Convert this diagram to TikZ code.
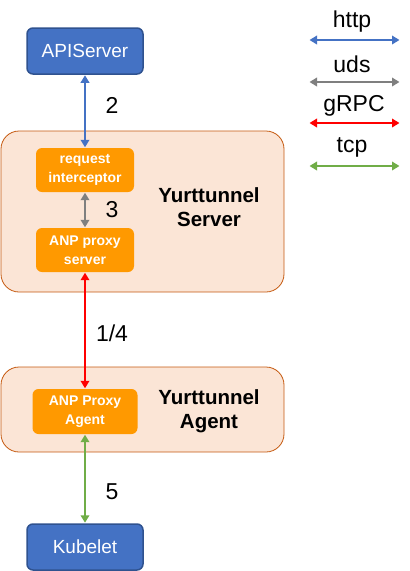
\documentclass[tikz,border=0pt]{standalone}
\usepackage{fontspec}
\setmainfont{Liberation Sans}
\usetikzlibrary{positioning,fit,arrows.meta,backgrounds}
\definecolor{apiblue}{HTML}{4472C4}
\definecolor{apiborder}{HTML}{2F528F}
\definecolor{anporange}{HTML}{FF9900}
\definecolor{tunfill}{HTML}{FBE5D6}
\definecolor{tunborder}{HTML}{C55A11}
\definecolor{udsgray}{HTML}{7F7F7F}
\definecolor{tcpgreen}{HTML}{70AD47}

\begin{document}
\begin{tikzpicture}[
  x = 1pt,
  y = -1pt,
  comp/.style = {
    draw = apiborder,
    line width = 1.5pt,
    rectangle,
    rounded corners = 6pt,
    fill = apiblue,
    text = white,
    font = \fontsize{19}{21}\selectfont,
    minimum width = 116pt,
    minimum height = 46pt,
  },
  proc/.style = {
    rectangle,
    rounded corners = 6pt,
    fill = anporange,
    text = white,
    align = center,
    inner sep = 1pt,
    font = \bfseries\fontsize{14}{19}\selectfont,
    minimum width = 98pt,
    minimum height = 44pt,
  },
  tunnel/.style = {
    draw = tunborder,
    line width = 0.8pt,
    rectangle,
    rounded corners = 18pt,
    fill = tunfill,
    minimum width = 283pt,
  },
  title/.style = {
    align = center,
    font = \bfseries\fontsize{20.5}{24}\selectfont,
  },
  stepnum/.style = {
    font = \fontsize{23}{26}\selectfont,
  },
  link/.style = {
    <->,
    line width = 2pt,
    shorten <= 0.5pt,
    shorten >= 0.5pt,
  },
  http/.style = {link, draw = apiblue},
  uds/.style = {link, draw = udsgray},
  grpc/.style = {link, draw = red, line width = 2.4pt},
  tcp/.style = {link, draw = tcpgreen},
  >={Triangle[length=7.5pt,width=8.5pt]},
]

  \useasboundingbox (0,0) rectangle (410,571);

  % containers
  \node[tunnel,minimum height=161pt] (srv) at (142.5,211.5) {};
  \node[tunnel,minimum height=85pt] (agt) at (142.5,409.5) {};

  \node[title] (srvname) at (209,207) {Yurttunnel\\Server};
  \node[title] (agtname) at (209,411) {Yurttunnel\\Agent};

  % components
  \node[comp] (api) at (85,51) {APIServer};
  \node[proc] (req) at (85,170) {request\\interceptor};
  \node[proc] (anps) at (85,250) {ANP proxy\\server};
  \node[proc,minimum width=105pt,minimum height=45pt] (anpa) at (85,411.5) {ANP Proxy\\Agent};
  \node[comp] (kube) at (85,547) {Kubelet};

  % steps
  \node[stepnum] (s2) at (112,105) {2};
  \node[stepnum] (s3) at (112,210) {3};
  \node[stepnum] (s14) at (112,333) {1/4};
  \node[stepnum] (s5) at (112,492) {5};

  \draw[http] (api) -- (req);
  \draw[uds] (req) -- (anps);
  \draw[grpc] (anps) -- (anpa);
  \draw[tcp] (anpa) -- (kube);

  % legend
  \node[stepnum] (lhttp) at (352,22) {http};
  \node[stepnum] (luds) at (352,64) {uds};
  \node[stepnum] (lgrpc) at (354,106) {gRPC};
  \node[stepnum] (ltcp) at (352,147) {tcp};

  \coordinate (hl) at (309,40);
  \coordinate (hr) at (400,40);
  \coordinate (ul) at (309,82);
  \coordinate (ur) at (400,82);
  \coordinate (gl) at (309,123);
  \coordinate (gr) at (400,123);
  \coordinate (tl) at (309,166);
  \coordinate (tr) at (400,166);

  \draw[http] (hl) -- (hr);
  \draw[uds] (ul) -- (ur);
  \draw[grpc] (gl) -- (gr);
  \draw[tcp] (tl) -- (tr);

\end{tikzpicture}
\end{document}
